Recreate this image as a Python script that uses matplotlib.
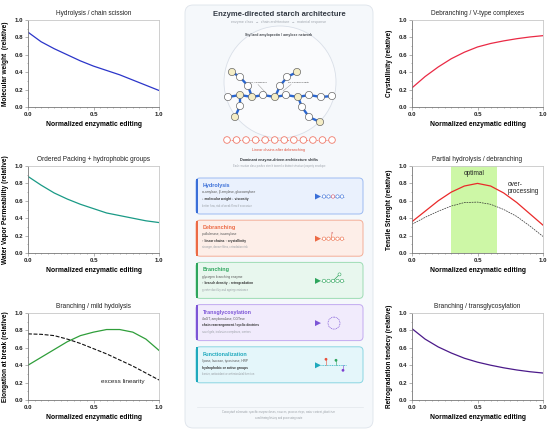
import numpy as np
import matplotlib.pyplot as plt
from matplotlib.patches import FancyBboxPatch, Circle, Polygon, Rectangle
from matplotlib.ticker import MultipleLocator

plt.rcParams['font.family'] = ['Liberation Sans', 'DejaVu Sans']

# ---- curve readings (x = 0, 0.1, ... 1.0)
x = np.linspace(0, 1, 11)
mol_weight = [0.86, 0.75, 0.67, 0.60, 0.53, 0.47, 0.42, 0.37, 0.31, 0.25, 0.19]
wvp = [0.88, 0.78, 0.69, 0.62, 0.56, 0.51, 0.46, 0.43, 0.40, 0.37, 0.35]
elong = [0.40, 0.49, 0.58, 0.67, 0.74, 0.78, 0.81, 0.81, 0.78, 0.70, 0.57]
elong_linear = [0.76, 0.755, 0.74, 0.70, 0.65, 0.59, 0.53, 0.46, 0.39, 0.31, 0.23]
cryst = [0.22, 0.35, 0.46, 0.555, 0.63, 0.69, 0.73, 0.76, 0.785, 0.805, 0.82]
tensile = [0.36, 0.48, 0.60, 0.70, 0.77, 0.80, 0.77, 0.69, 0.58, 0.45, 0.32]
tensile_ref = [0.33, 0.41, 0.48, 0.54, 0.58, 0.585, 0.56, 0.50, 0.42, 0.31, 0.19]
retro = [0.82, 0.70, 0.61, 0.54, 0.48, 0.435, 0.40, 0.37, 0.345, 0.325, 0.31]
optimal_band = [0.30, 0.65]

# ---- schematic network (pixel coords of the stylised molecule)
node_x = [228, 240, 252, 263, 275, 286, 298, 309, 321, 332,
          232, 240, 248, 240, 235, 297, 287, 280, 302, 309, 320]
node_y = [97, 95, 97, 95, 97, 95, 97, 95, 97, 96,
          72, 77, 86, 106, 117, 72, 77, 86, 107, 117, 122]
node_yellow = [0, 1, 1, 0, 1, 0, 1, 0, 0, 0,
               1, 0, 0, 0, 1, 1, 0, 0, 0, 0, 1]
node_links = [(0, 1), (1, 2), (2, 3), (3, 4), (4, 5), (5, 6), (6, 7), (7, 8), (8, 9),
              (10, 11), (11, 12), (12, 2), (1, 13), (13, 14),
              (15, 16), (16, 17), (17, 4), (6, 18), (18, 19), (19, 20)]
n_linear = 12

card_titles = ['Hydrolysis', 'Debranching', 'Branching', 'Transglycosylation', 'Functionalization']
card_enzymes = ['α-amylase, β-amylase, glucoamylase',
                'pullulanase, isoamylase',
                'glycogen branching enzyme',
                '4αGT, amylomaltase, CGTase',
                'lipase, laccase, tyrosinase, HRP']
card_effects = ['↓ molecular weight ↓ viscosity',
                '↑ linear chains ↑ crystallinity',
                '↑ branch density ↓ retrogradation',
                'chain rearrangement / cyclic dextrins',
                'hydrophobic or active groups']
card_notes = ['better flow, risk of weak films if excessive',
              'stronger, denser films, retrodation risk',
              'greater ductility and ageing resistance',
              'novel gels, inclusion complexes, carriers',
              'barrier, antioxidant or antimicrobial function']
card_colors = ['#3a6fd8', '#ec6a45', '#2ea55d', '#7c55d6', '#1ea9bd']
card_fills = ['#eaf1fd', '#fdeee8', '#e8f7ee', '#f1ebfc', '#e4f6fa']
card_edges = ['#9dbbf2', '#f4ae98', '#9ddcb4', '#c2aaf0', '#8ad6e2']

fig = plt.figure(figsize=(5.5, 4.32), dpi=100)


def style(ax, title, ylab):
    ax.set_xlim(0, 1)
    ax.set_ylim(0, 1)
    ax.set_title(title, fontsize=4.7, pad=3.5, color='#222')
    ax.set_ylabel(ylab, fontsize=4.7, fontweight='bold', labelpad=4)
    ax.set_xlabel('Normalized enzymatic editing', fontsize=4.9, fontweight='bold', labelpad=3)
    ax.xaxis.set_major_locator(MultipleLocator(0.5))
    ax.xaxis.set_minor_locator(MultipleLocator(0.05))
    ax.yaxis.set_major_locator(MultipleLocator(0.2))
    ax.yaxis.set_minor_locator(MultipleLocator(0.1))
    ax.xaxis.set_major_formatter('{x:.1f}')
    ax.yaxis.set_major_formatter('{x:.1f}')
    ax.tick_params(which='both', direction='out', width=0.4, color='#777',
                   labelsize=4.4, pad=1.5, labelcolor='#222')
    ax.tick_params(which='major', length=2)
    ax.tick_params(which='minor', length=1)
    for lbl in ax.get_xticklabels() + ax.get_yticklabels():
        lbl.set_fontweight('bold')
    for s in ['left', 'bottom']:
        ax.spines[s].set_color('#777')
        ax.spines[s].set_linewidth(0.6)
    for s in ['top', 'right']:
        ax.spines[s].set_color('#c8c8c8')
        ax.spines[s].set_linewidth(0.6)


lefts = [28 / 550, 412 / 550]
w = 131 / 550
bottoms = [1 - 107 / 432, 1 - 253 / 432, 1 - 400 / 432]
h = 87 / 432

ax1 = fig.add_axes([lefts[0], bottoms[0], w, h])
ax1.plot(x, mol_weight, color='#2b35c9', lw=0.9)
style(ax1, 'Hydrolysis / chain scission', 'Molecular weight  (relative)')

ax2 = fig.add_axes([lefts[0], bottoms[1], w, h])
ax2.plot(x, wvp, color='#1a9a86', lw=0.9)
style(ax2, 'Ordered Packing + hydrophobic groups', 'Water Vapor Permeability (relative)')

ax3 = fig.add_axes([lefts[0], bottoms[2], w, h])
ax3.plot(x, elong, color='#2f9e3a', lw=0.9)
ax3.plot(x, elong_linear, color='#111', lw=0.8, ls=(0, (3.5, 1.5)))
ax3.text(0.56, 0.21, 'excess linearity', fontsize=4.6, color='#222', va='center')
style(ax3, 'Branching / mild hydolysis', 'Elongation at break (relative)')

ax4 = fig.add_axes([lefts[1], bottoms[0], w, h])
ax4.plot(x, cryst, color='#ea2a45', lw=0.9)
style(ax4, 'Debranching / V-type complexes', 'Crystallinity (relative)')

ax5 = fig.add_axes([lefts[1], bottoms[1], w, h])
ax5.axvspan(optimal_band[0], optimal_band[1], color='#cdf7a6', lw=0)
ax5.plot(x, tensile, color='#ea2a2a', lw=0.9)
ax5.plot(x, tensile_ref, color='#333', lw=0.5, ls=(0, (2.5, 1.2)))
ax5.text(np.mean(optimal_band), 0.915, 'optimal', fontsize=4.7, ha='center', va='center', color='#222')
ax5.text(0.73, 0.75, 'over-\nprocessing', fontsize=4.7, ha='left', va='center', color='#222',
         linespacing=1.1)
style(ax5, 'Partial hydrolysis / debranching', 'Tensile Strenght (relative)')

ax6 = fig.add_axes([lefts[1], bottoms[2], w, h])
ax6.plot(x, retro, color='#4b1a8a', lw=0.9)
style(ax6, 'Branching / transglycosylation', 'Retrogradation tendecy (relative)')

# ---- central schematic, drawn in pixel coordinates
ov = fig.add_axes([0, 0, 1, 1], zorder=5)
ov.set_xlim(0, 550)
ov.set_ylim(432, 0)
ov.axis('off')

ov.add_patch(FancyBboxPatch((185, 5), 188, 423, boxstyle='round,pad=0,rounding_size=8',
                            fc='#f5f8fb', ec='#dde3ea', lw=0.6))
ov.text(279, 14, 'Enzyme-directed starch architecture', fontsize=5.5, fontweight='bold',
        ha='center', va='center', color='#333a44')
ov.text(279, 22.5, 'enzyme class  →  chain architecture  →  material response', fontsize=2.6,
        ha='center', va='center', color='#a0a6ae')
ov.add_patch(Circle((280, 82), 56, fc='#fafbfd', ec='#d9dfe8', lw=0.6))
ov.text(279, 35, 'Stylized amylopectin / amylose network', fontsize=2.5, fontweight='bold',
        ha='center', va='center', color='#44484e')

for a, b in node_links:
    ov.plot([node_x[a], node_x[b]], [node_y[a], node_y[b]], color='#2a66d0', lw=1.7,
            solid_capstyle='butt', zorder=2)
for nx, ny, yl in zip(node_x, node_y, node_yellow):
    ov.add_patch(Circle((nx, ny), 3.6, fc='#f4edc6' if yl else 'white', ec='#5a5a5a',
                        lw=0.45, zorder=3))

ov.plot([258, 266], [84.5, 93], color='#888', lw=0.3, zorder=1)
ov.plot([291, 283], [84.5, 91], color='#888', lw=0.3, zorder=1)
ov.text(250, 82, 'α-1,4 backbone', fontsize=1.7, ha='left', va='center', color='#333', zorder=4)
ov.text(287.5, 82, 'α-1,6 branch points', fontsize=1.7, ha='left', va='center', color='#333', zorder=4)

lin_x = np.linspace(227, 332, n_linear)
ov.plot([lin_x[0], lin_x[-1]], [140, 140], color='#f07a6a', lw=0.6, ls=(0, (1.5, 1)), zorder=2)
for lx in lin_x:
    ov.add_patch(Circle((lx, 140), 3.3, fc='white', ec='#f07a6a', lw=0.6, zorder=3))
ov.text(279, 150, 'Linear chains after debranching', fontsize=2.7, ha='center', va='center',
        color='#e0503c')
ov.text(279, 160, 'Dominant enzyme-driven architecture shifts', fontsize=2.7, fontweight='bold',
        ha='center', va='center', color='#33373c')
ov.text(279, 166, 'Each reaction class pushes starch toward a distinct structure/property envelope',
        fontsize=1.9, ha='center', va='center', color='#a0a6ae')

for i, title in enumerate(card_titles):
    top = 178 + 42.2 * i
    col = card_colors[i]
    ov.add_patch(FancyBboxPatch((196, top), 167, 36, boxstyle='round,pad=0,rounding_size=4',
                                fc=card_fills[i], ec=card_edges[i], lw=0.7))
    ov.add_patch(Rectangle((196, top + 0.6), 1.8, 34.8, fc=col, ec='none', zorder=3))
    ov.text(202.5, top + 7.5, title, fontsize=3.9, fontweight='bold', color=col, va='center')
    ov.text(202.5, top + 14.3, card_enzymes[i], fontsize=2.3, color='#555', va='center')
    ov.text(202.5, top + 20.8, card_effects[i], fontsize=2.3, fontweight='bold', color='#333', va='center')
    ov.text(202.5, top + 27.2, card_notes[i], fontsize=2.0, color='#9aa0a6', va='center')

    cy = top + 18.5
    ov.add_patch(Polygon([(315, cy - 3), (315, cy + 3), (321, cy)], closed=True, fc=col, ec='none'))
    if i in (0, 1, 2):
        cx = np.linspace(324, 342, 5)
        ov.plot([321, 344], [cy, cy], color=col, lw=0.4, ls=(0, (1.2, 0.8)))
        for k, c in enumerate(cx):
            ec = '#d0506a' if (i == 0 and k == 2) else col
            ov.add_patch(Circle((c, cy), 1.7, fc='white', ec=ec, lw=0.4, zorder=4))
        if i == 1:
            ov.plot([331, 332], [cy, cy - 5], color=col, lw=0.4)
            ov.text(332, cy - 6, '×', fontsize=3, color='#c03040', ha='center', va='center')
        if i == 2:
            ov.plot([333, 339], [cy, cy - 6], color=col, lw=0.5)
            ov.add_patch(Circle((339.5, cy - 6.5), 1.5, fc='white', ec=col, lw=0.4, zorder=4))
    elif i == 3:
        ov.add_patch(Circle((334, cy), 6, fc='none', ec=col, lw=0.5, ls=(0, (1.5, 1))))
    else:
        ov.plot([321, 346], [cy, cy], color=col, lw=0.5, ls=(0, (1.5, 1)))
        for px, dy, pc in [(326, -6, '#e8503c'), (336, -5, '#2ea55d'), (343, 5, '#7c3fd0')]:
            ov.plot([px, px], [cy, cy + dy], color=pc, lw=0.4)
            ov.add_patch(Circle((px, cy + dy), 1.4, fc=pc, ec='none', zorder=4))

ov.plot([197, 363], [407, 407], color='#e2e6eb', lw=0.5)
ov.text(279, 412.5, 'Conceptual schematic: specific enzyme doses, sources, process steps, water content, plasticiser',
        fontsize=1.9, ha='center', va='center', color='#9aa0a6')
ov.text(279, 418, 'conditioning history and processing route', fontsize=1.9, ha='center',
        va='center', color='#9aa0a6')

fig.savefig('out.png', dpi=100)
